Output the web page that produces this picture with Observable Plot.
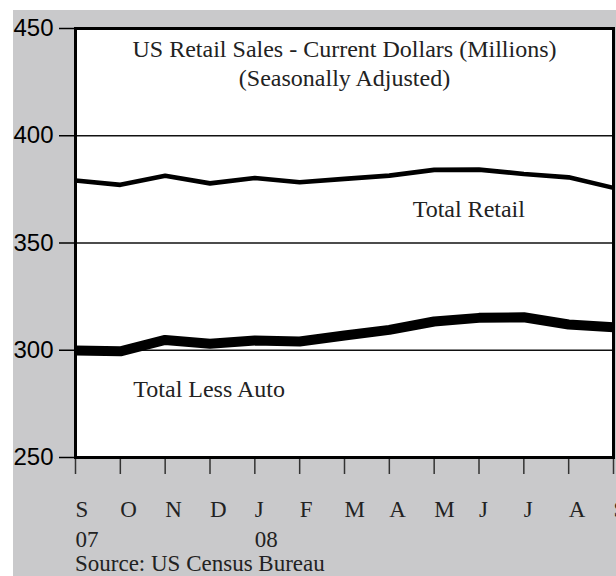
<!DOCTYPE html>
<html><head><meta charset="utf-8">
<script src="https://cdn.jsdelivr.net/npm/d3@7"></script>
<script src="https://cdn.jsdelivr.net/npm/@observablehq/plot@0.6"></script>
<style>
html,body{margin:0;padding:0;background:#fff;overflow:hidden;width:616px;height:576px}
#wrap{position:absolute;left:13px;top:10px;width:603px;height:566px;background:#c9c9cb;overflow:hidden}
#caption{position:absolute;left:62px;top:541px;font-family:"Liberation Serif",serif;font-size:23px;line-height:26px;color:#222;white-space:nowrap}
</style></head><body>
<div id="wrap"><div id="chart"></div><div id="caption"></div></div>
<script>
const months = ["S","O","N","D","J","F","M","A","M","J","J","A","S"];
const years  = ["07","","","","08","","","","","","","",""];
const totalRetail   = [379.1,377.1,381.4,377.8,380.3,378.3,379.9,381.4,384.1,384.2,382.2,380.6,375.7];
const totalLessAuto = [299.9,299.5,304.8,303.0,304.5,304.1,306.9,309.5,313.4,315.1,315.4,312.0,310.7];
const yTicks = [250,300,350,400,450];
const gridValues = [300,350,400];
const titleLines = ["US Retail Sales - Current Dollars (Millions)","(Seasonally Adjusted)"];
const labelNames = ["Total Retail","Total Less Auto"];
const labelMonth = [7.52,1.29];
const labelValue = [362,278];
const sourceText = "Source: US Census Bureau";

const idx = months.map((m,i)=>i);
const serif = "Liberation Serif";
const blank = () => "";

const chart = Plot.plot({
  width: 603,
  height: 540,
  marginLeft: 62,
  marginRight: 3,
  marginTop: 18,
  marginBottom: 93,
  style: {background:"transparent", overflow:"visible", color:"#111"},
  x: {type:"linear", domain:[0,12]},
  y: {domain:[250,450]},
  marks: [
    Plot.frame({fill:"white", stroke:"none"}),
    Plot.ruleY(gridValues, {stroke:"#111", strokeWidth:1.3}),
    Plot.line(totalRetail, {x:(d,i)=>i, y:d=>d, stroke:"black", strokeWidth:4.6, strokeLinejoin:"miter", strokeLinecap:"butt"}),
    Plot.line(totalLessAuto, {x:(d,i)=>i, y:d=>d, stroke:"black", strokeWidth:10, strokeLinejoin:"miter", strokeLinecap:"butt"}),
    Plot.text([titleLines.join("\n")], {frameAnchor:"top", dy:8, fontSize:24, fontFamily:serif, lineHeight:1.2, fill:"#222"}),
    Plot.text(labelNames, {x:(d,i)=>labelMonth[i], y:(d,i)=>labelValue[i], text:d=>d, textAnchor:"start", lineAnchor:"bottom", fontSize:24, fontFamily:serif, fill:"#222"}),
    Plot.axisY({ticks:yTicks, tickFormat:blank, tickSize:16, stroke:"black", strokeWidth:1.5, label:null}),
    Plot.axisY({ticks:yTicks, tickSize:0, tickPadding:22, fontSize:24, fontFamily:"Liberation Sans", fill:"black", label:null}),
    Plot.axisX({ticks:idx, tickFormat:blank, tickSize:17, stroke:"#333", strokeWidth:1.5, label:null}),
    Plot.axisX({ticks:idx, tickSize:0, tickPadding:38, textAnchor:"start", fontSize:23, fontFamily:serif, lineHeight:1.3, fill:"#222", label:null,
      tickFormat:(d)=> months[d] + (years[d] ? "\n" + years[d] : "")}),
    Plot.frame({stroke:"black", strokeWidth:3})
  ]
});
document.getElementById("chart").appendChild(chart);
document.getElementById("caption").textContent = sourceText;
</script>
</body></html>
